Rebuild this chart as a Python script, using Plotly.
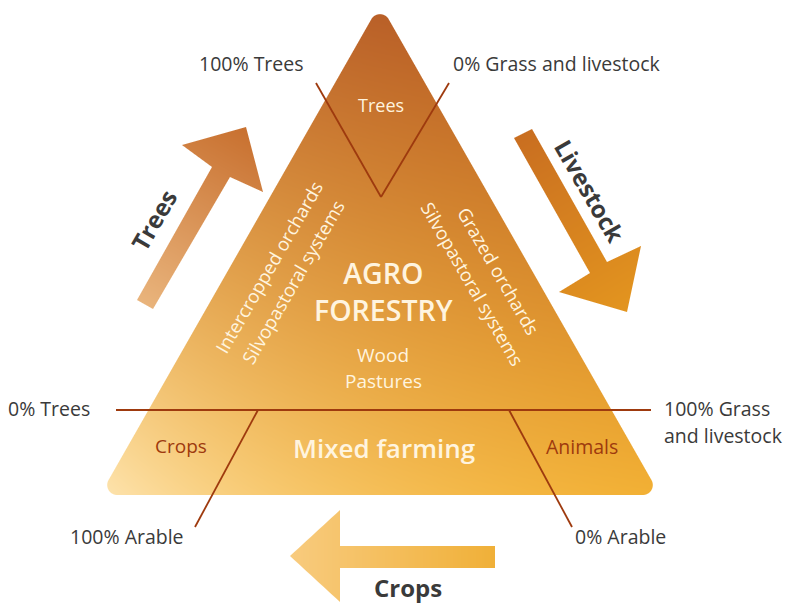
import zlib, struct, base64
import numpy as np
import plotly.graph_objects as go

W, H = 798, 604

# ---------------- diagram data ----------------
# main triangle (sharp corners, pixel coords) and corner rounding radius
tri_pts = [(380, 4), (660, 495), (100, 495)]
tri_radius = 10
tri_top_color = (178, 82, 26)
tri_bottom_color = (240, 166, 28)
tri_pale_color = (253, 227, 174)

# arrows
trees_arrow = [(137, 300), (212, 167), (182, 145), (246, 127), (263, 192), (230, 177), (153, 309)]
trees_arrow_colors = [(233, 180, 124), (200, 112, 47)]          # tail -> tip
livestock_arrow = [(514, 138), (532, 129), (607, 262), (641, 246), (627, 312), (559, 292), (590, 273)]
livestock_arrow_colors = [(201, 110, 32), (227, 149, 31)]       # tail -> tip
crops_arrow = [(290, 556), (340, 510), (340, 546), (495, 546), (495, 568), (340, 568), (340, 602)]
crops_arrow_colors = [(240, 176, 56), (248, 203, 126)]          # tail(right) -> tip(left)

# guide lines
guide_lines = [
    ((116, 410), (651, 410)),   # 0% trees / 100% grass
    ((316, 83), (381, 197)),    # V left
    ((449, 83), (381, 197)),    # V right
    ((258, 410), (195, 527)),   # 100% arable
    ((509, 410), (572, 527)),   # 0% arable
]
line_color = "#9E3A0E"

# labels: text, x, y, size, color, weight, angle, xanchor
dark = "#3A3A3A"
cream = "#FFF4DF"
rust = "#9E3A0E"
labels = [
    ("100% Trees", 251, 63, 19.5, dark, 400, 0, "center"),
    ("0% Grass and livestock", 557, 63, 19.5, dark, 400, 0, "center"),
    ("0% Trees", 92, 408, 19.5, dark, 400, 0, "right"),
    ("100% Grass", 662, 408, 19.5, dark, 400, 0, "left"),
    ("and livestock", 662, 435, 19.5, dark, 400, 0, "left"),
    ("100% Arable", 127, 536, 19.5, dark, 400, 0, "center"),
    ("0% Arable", 620, 536, 19.5, dark, 400, 0, "center"),
    ("Trees", 381, 105, 18, cream, 400, 0, "center"),
    ("AGRO<br>FORESTRY", 383, 291, 28.5, cream, 600, 0, "center"),
    ("Wood", 383, 355, 19, cream, 400, 0, "center"),
    ("Pastures", 383, 381, 19, cream, 400, 0, "center"),
    ("Intercropped orchards", 268, 267, 18.5, cream, 400, -60, "center"),
    ("Silvopastoral systems", 292, 282, 18.5, cream, 400, -60, "center"),
    ("Grazed orchards", 499, 270, 18.5, cream, 400, 60, "center"),
    ("Silvopastoral systems", 473, 283, 18.5, cream, 400, 60, "center"),
    ("Crops", 181, 446, 19, rust, 400, 0, "center"),
    ("Mixed farming", 384, 448, 26, cream, 600, 0, "center"),
    ("Animals", 582, 446, 19.5, rust, 400, 0, "center"),
    ("Trees", 153, 220, 24, dark, 700, -60, "center"),
    ("Livestock", 590, 190, 24, dark, 700, 60, "center"),
    ("Crops", 408, 587, 24, dark, 700, 0, "center"),
]

# ---------------- raster helpers ----------------
yy, xx = np.mgrid[0:H, 0:W].astype(float)
px, py = xx + 0.5, yy + 0.5


def poly_sdf(pts):
    pts = np.asarray(pts, float)
    n = len(pts)
    d2 = np.full(px.shape, np.inf)
    inside = np.zeros(px.shape, bool)
    for i in range(n):
        ax, ay = pts[i]
        bx, by = pts[(i + 1) % n]
        ex, ey = bx - ax, by - ay
        wx, wy = px - ax, py - ay
        t = np.clip((wx * ex + wy * ey) / (ex * ex + ey * ey), 0, 1)
        dx, dy = wx - ex * t, wy - ey * t
        d2 = np.minimum(d2, dx * dx + dy * dy)
        if ay != by:
            cond = ((ay > py) != (by > py)) & (px < ex * (py - ay) / (by - ay) + ax)
            inside ^= cond
    d = np.sqrt(d2)
    return np.where(inside, -d, d)


def inset_triangle(pts, r):
    p = np.asarray(pts, float)
    a = np.linalg.norm(p[1] - p[2])
    b = np.linalg.norm(p[0] - p[2])
    c = np.linalg.norm(p[0] - p[1])
    s = (a + b + c) / 2
    v1, v2 = p[1] - p[0], p[2] - p[0]
    area = abs(v1[0] * v2[1] - v1[1] * v2[0]) / 2
    rho = area / s
    inc = (a * p[0] + b * p[1] + c * p[2]) / (a + b + c)
    k = (rho - r) / rho
    return inc + (p - inc) * k


canvas = np.zeros((H, W, 4), float)


def composite(cov, rgb):
    a_s = cov[..., None]
    a_d = canvas[..., 3:4]
    out_a = a_s + a_d * (1 - a_s)
    safe = np.where(out_a > 0, out_a, 1)
    canvas[..., :3] = (rgb * a_s + canvas[..., :3] * a_d * (1 - a_s)) / safe
    canvas[..., 3:4] = out_a


def axial_gradient(p0, p1, c0, c1):
    p0 = np.asarray(p0, float); p1 = np.asarray(p1, float)
    v = p1 - p0
    t = np.clip(((px - p0[0]) * v[0] + (py - p0[1]) * v[1]) / (v @ v), 0, 1)[..., None]
    return np.asarray(c0, float) * (1 - t) + np.asarray(c1, float) * t


# triangle
inner = inset_triangle(tri_pts, tri_radius)
sd = poly_sdf(inner) - tri_radius
cov = np.clip(0.5 - sd, 0, 1)
ty = np.clip((py - 15) / (495 - 15), 0, 1)[..., None]
base = np.asarray(tri_top_color, float) * (1 - ty) + np.asarray(tri_bottom_color, float) * ty
proj = np.clip((px - 103) * 0.73 + (495 - py) * 0.68, 0, None)
w = np.exp(-proj / 225.0)[..., None]
tri_rgb = base * (1 - w) + np.asarray(tri_pale_color, float) * w
composite(cov, tri_rgb)

# arrows
for pts, cols, p0, p1 in [
    (trees_arrow, trees_arrow_colors, (145, 305), (246, 127)),
    (livestock_arrow, livestock_arrow_colors, (523, 133), (627, 312)),
    (crops_arrow, crops_arrow_colors, (495, 557), (290, 557)),
]:
    sd = poly_sdf(pts)
    cov = np.clip(0.5 - sd, 0, 1)
    composite(cov, axial_gradient(p0, p1, cols[0], cols[1]))

img = np.clip(np.round(canvas * np.array([1, 1, 1, 255.0])), 0, 255).astype(np.uint8)


def png_bytes(arr):
    h, w_, _ = arr.shape
    raw = b"".join(b"\x00" + arr[r].tobytes() for r in range(h))

    def chunk(tag, data):
        return struct.pack(">I", len(data)) + tag + data + struct.pack(">I", zlib.crc32(tag + data) & 0xFFFFFFFF)

    ihdr = struct.pack(">IIBBBBB", w_, h, 8, 6, 0, 0, 0)
    return b"\x89PNG\r\n\x1a\n" + chunk(b"IHDR", ihdr) + chunk(b"IDAT", zlib.compress(raw, 9)) + chunk(b"IEND", b"")


src = "data:image/png;base64," + base64.b64encode(png_bytes(img)).decode()

# ---------------- figure ----------------
fig = go.Figure()
fig.add_trace(go.Scatter(x=[0, W], y=[0, H], mode="markers", marker=dict(opacity=0), hoverinfo="skip", showlegend=False))

fig.add_layout_image(dict(source=src, xref="paper", yref="paper", x=0, y=1, sizex=1, sizey=1,
                          xanchor="left", yanchor="top", sizing="stretch", layer="below"))

for (x0, y0), (x1, y1) in guide_lines:
    fig.add_shape(type="line", x0=x0, y0=y0, x1=x1, y1=y1, xref="x", yref="y",
                  line=dict(color=line_color, width=1.8), layer="above")

for text, x, y, size, color, weight, angle, xa in labels:
    fig.add_annotation(x=x, y=y, xref="x", yref="y", text=text, showarrow=False,
                       xanchor=xa, yanchor="middle", textangle=angle, align="center",
                       font=dict(family="Open Sans", size=size, color=color, weight=weight))

fig.update_layout(
    width=W, height=H, autosize=False,
    margin=dict(l=0, r=0, t=0, b=0),
    paper_bgcolor="white", plot_bgcolor="rgba(0,0,0,0)",
    xaxis=dict(range=[0, W], visible=False, fixedrange=True),
    yaxis=dict(range=[H, 0], visible=False, fixedrange=True),
    showlegend=False,
)

fig.write_html("out.html", config={"displayModeBar": False},
               post_script="document.body.style.margin='0px';document.body.style.overflow='hidden';")
